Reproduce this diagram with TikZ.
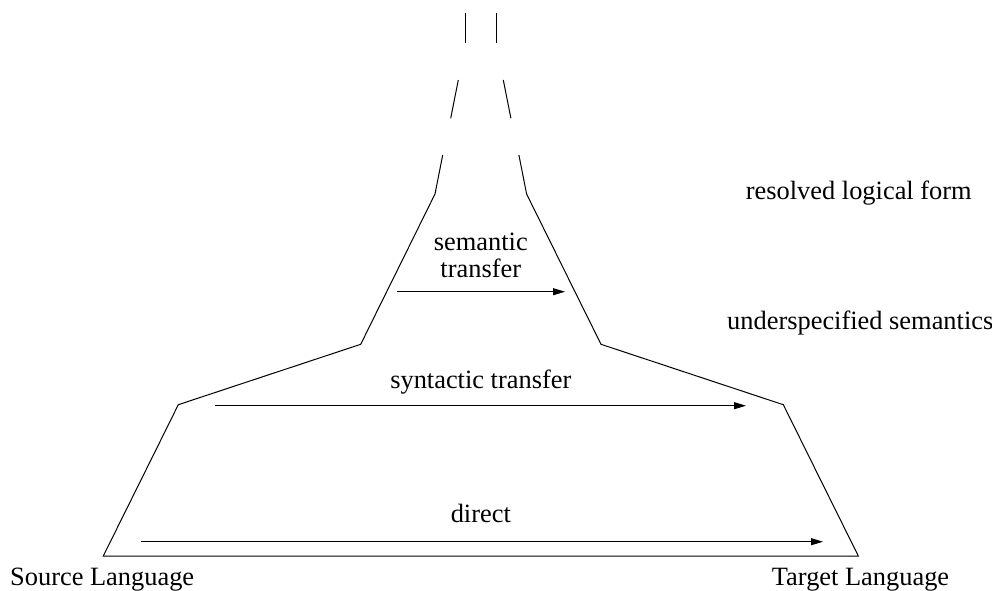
\documentclass[tikz,border=0pt]{standalone}
\usepackage{fontspec}
\setmainfont{Liberation Serif}
\newfontfamily\timesfont{Liberation Serif}
\usetikzlibrary{arrows.meta}
\begin{document}
\begin{tikzpicture}[x=1pt,y=-1pt,
  edge/.style={line width=1pt,line join=miter},
  transfer/.style={line width=1pt,-{Triangle[length=12pt,width=7pt]}},
  lbl/.style={inner sep=0pt,font=\timesfont\fontsize{26.4}{28}\selectfont}]
\useasboundingbox (0,0) rectangle (992,590);
% outline of the pyramid
\coordinate (tl1) at (465.7,12.7);  \coordinate (tl2) at (465.7,42.7);
\coordinate (tr1) at (496,12.7);    \coordinate (tr2) at (496,42.7);
\coordinate (ml1) at (458.3,80);    \coordinate (ml2) at (450.7,118.3);
\coordinate (mr1) at (503.3,80);    \coordinate (mr2) at (510.9,118.3);
\coordinate (ll0) at (442.7,155);   \coordinate (ll1) at (435,194);
\coordinate (rr0) at (518.9,155);   \coordinate (rr1) at (526.6,194);
\coordinate (semL) at (360.7,344.3); \coordinate (semR) at (601,344.3);
\coordinate (synL) at (178.3,404.7); \coordinate (synR) at (783.3,404.7);
\coordinate (srcB) at (103.3,556);  \coordinate (tgtB) at (858.3,556);
\draw[edge] (tl1) -- (tl2);
\draw[edge] (tr1) -- (tr2);
\draw[edge] (ml1) -- (ml2);
\draw[edge] (mr1) -- (mr2);
\draw[edge] (ll0) -- (ll1) -- (semL) -- (synL) -- (srcB) -- (tgtB) -- (synR) -- (semR) -- (rr1) -- (rr0);
% transfer arrows
\coordinate (a1s) at (397.3,291.7); \coordinate (a1e) at (565,291.7);
\coordinate (a2s) at (215,405.7);   \coordinate (a2e) at (746,405.7);
\coordinate (a3s) at (141,541.7);   \coordinate (a3e) at (823,541.7);
\draw[transfer] (a1s) -- (a1e);
\draw[transfer] (a2s) -- (a2e);
\draw[transfer] (a3s) -- (a3e);
% labels
\node[lbl,anchor=base] (semantic) at (480.8,250) {semantic};
\node[lbl,anchor=base] (semtransfer) at (480.8,277.5) {transfer};
\node[lbl,anchor=base] (syntactic) at (480.8,388.5) {syntactic transfer};
\node[lbl,anchor=base] (direct) at (480.8,522) {direct};
\node[lbl,anchor=base west] (source) at (10,585.7) {Source Language};
\node[lbl,anchor=base west] (target) at (771.7,585.7) {Target Language};
\node[lbl,anchor=base west] (rlf) at (745.7,199.3) {resolved logical form};
\node[lbl,anchor=base west] (usem) at (727,329) {underspecified semantics};
\end{tikzpicture}
\end{document}
